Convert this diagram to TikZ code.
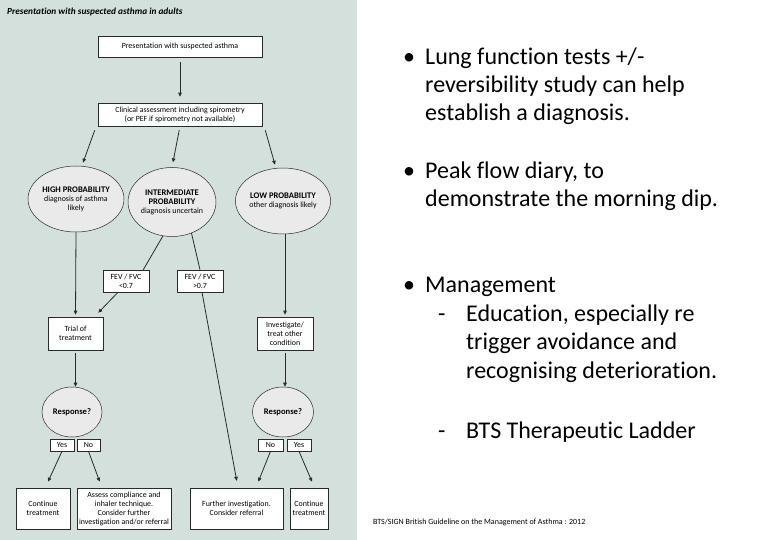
\documentclass[tikz,border=0pt]{standalone}
\usepackage{fontspec}
\setmainfont{Carlito}[Ligatures=NoCommon]
\usetikzlibrary{shapes.geometric,arrows.meta}
\definecolor{panel}{HTML}{D3E0DB}
\definecolor{ellfill}{HTML}{EAEAEA}
\definecolor{lineclr}{HTML}{2A2A2A}
\begin{document}
\begin{tikzpicture}[x=1pt,y=-1pt,
  fc/.style={font=\fontsize{7.9}{9}\selectfont},
  box/.style={fc,draw=lineclr,line width=0.6pt,fill=white,align=center,inner sep=1pt},
  ell/.style={fc,ellipse,draw=lineclr,line width=0.5pt,fill=ellfill,align=center,inner sep=0pt},
  arr/.style={draw=lineclr,line width=0.8pt,-{Triangle[length=4pt,width=3.5pt]}},
  ln/.style={draw=lineclr,line width=0.8pt},
  rt/.style={font=\fontsize{24}{28}\selectfont,anchor=base west,inner sep=0pt},
  cite/.style={font=\fontsize{8}{9}\selectfont,anchor=base west,inner sep=0pt}
]
\newcommand{\hd}[1]{{\fontsize{8.6}{9}\selectfont\bfseries #1}}
\useasboundingbox (0,0) rectangle (780,540);
\fill[panel] (0,0) rectangle (357,540);

\node[font=\fontsize{9.3}{10}\selectfont\bfseries\itshape,anchor=base west,inner sep=0pt] (title) at (7,15) {Presentation with suspected asthma in adults};

% boxes
\node[box,minimum width=164pt,minimum height=21pt] (b1) at (180,46.5) {Presentation with suspected asthma};
\node[box,minimum width=164pt,minimum height=23pt] (b2) at (180,114.5) {Clinical assessment including spirometry\\(or PEF if spirometry not available)};

\node[ell,minimum width=96pt,minimum height=66pt] (high) at (76,199) {\hd{HIGH PROBABILITY}\\diagnosis of asthma\\likely};
\node[ell,minimum width=78pt,minimum height=69pt] (inter) at (172,202) {\hd{INTERMEDIATE}\\\hd{PROBABILITY}\\diagnosis uncertain};
\node[ell,minimum width=90pt,minimum height=66pt] (low) at (283,201) {\hd{LOW PROBABILITY}\\other diagnosis likely};

\node[box,minimum width=46pt,minimum height=22pt] (fev1) at (126,281) {FEV / FVC\\<0.7};
\node[box,minimum width=46pt,minimum height=22pt] (fev2) at (200,281) {FEV / FVC\\>0.7};

\node[box,minimum width=55pt,minimum height=33pt] (trial) at (75.5,333.5) {Trial of\\treatment};
\node[box,minimum width=56pt,minimum height=33pt] (invest) at (285,333.5) {Investigate/\\treat other\\condition};

\node[ell,minimum width=60pt,minimum height=50pt] (respL) at (72,412) {\hd{Response?}};
\node[ell,minimum width=61pt,minimum height=50pt] (respR) at (283,412) {\hd{Response?}};

\node[box,minimum width=24pt,minimum height=12pt] (yesL) at (62,445) {Yes};
\node[box,minimum width=23pt,minimum height=12pt] (noL) at (88.5,445) {No};
\node[box,minimum width=25pt,minimum height=12pt] (noR) at (270.5,445) {No};
\node[box,minimum width=24pt,minimum height=12pt] (yesR) at (299,445) {Yes};

\node[box,minimum width=54pt,minimum height=41pt] (contL) at (43,508.5) {Continue\\treatment};
\node[box,minimum width=94pt,minimum height=41pt] (assess) at (124,508.5) {Assess compliance and\\inhaler technique.\\Consider further\\investigation and/or referral};
\node[box,minimum width=93pt,minimum height=41pt] (further) at (236.5,508.5) {Further investigation.\\Consider referral};
\node[box,minimum width=38pt,minimum height=41pt] (contR) at (309,508.5) {Continue\\treatment};

% connectors
\draw[arr,shorten <=5pt,shorten >=6pt] (b1.south) -- (b2.north);
\draw[arr] ([xshift=-3pt,yshift=-4pt]b2.south west) -- ([xshift=7pt,yshift=3pt]high.north);
\draw[arr,shorten <=4pt,shorten >=5pt] (b2.south) -- (inter.north);
\draw[arr] ([xshift=3pt,yshift=-4pt]b2.south east) -- ([xshift=-8pt,yshift=3pt]low.north);

\draw[arr,shorten >=2pt] (high.south) -- (trial.north);
\draw[ln] (inter.255) -- ([xshift=-6pt]fev1.north east);
\draw[arr] ([xshift=-8pt]fev1.south) -- ([xshift=-5pt,yshift=4pt]trial.north east);
\draw[ln] (inter.-58) -- (fev2.north);
\draw[arr,shorten >=7pt] ([xshift=2pt]fev2.south) -- ([xshift=1.5pt]further.north);
\draw[arr,shorten >=2pt] (low.south -| invest.north) -- (invest.north);

\draw[arr,shorten <=3pt] (trial.south) -- (trial.south |- respL.north);
\draw[arr,shorten <=3pt] (invest.south) -- (invest.south |- respR.north);

\draw[arr] (yesL.south) -- ([xshift=5pt,yshift=6pt]contL.north);
\draw[arr] (noL.south) -- ([xshift=23pt,yshift=6pt]assess.north west);
\draw[arr] (noR.south) -- ([xshift=-25pt,yshift=6pt]further.north east);
\draw[arr] (yesR.south) -- ([xshift=3pt,yshift=6pt]contR.north);

% right text
\node[rt] (bu1) at (403,65) {•};
\node[rt] (t11) at (425,65) {Lung function tests +/-};
\node[rt] (t12) at (425,93) {reversibility study can help};
\node[rt] (t13) at (425,121) {establish a diagnosis.};
\node[rt] (bu2) at (403,179) {•};
\node[rt] (t21) at (425,179) {Peak flow diary, to};
\node[rt] (t22) at (425,207) {demonstrate the morning dip.};
\node[rt] (bu3) at (403,293) {•};
\node[rt] (t31) at (425,293) {Management};
\node[rt] (d1) at (438,322) {-};
\node[rt] (t32) at (466,322) {Education, especially re};
\node[rt] (t33) at (466,350) {trigger avoidance and};
\node[rt] (t34) at (466,378) {recognising deterioration.};
\node[rt] (d2) at (438,438) {-};
\node[rt] (t35) at (466,438) {BTS Therapeutic Ladder};

\node[cite] (cite) at (373,524) {BTS/SIGN British Guideline on the Management of Asthma : 2012};
\end{tikzpicture}
\end{document}
